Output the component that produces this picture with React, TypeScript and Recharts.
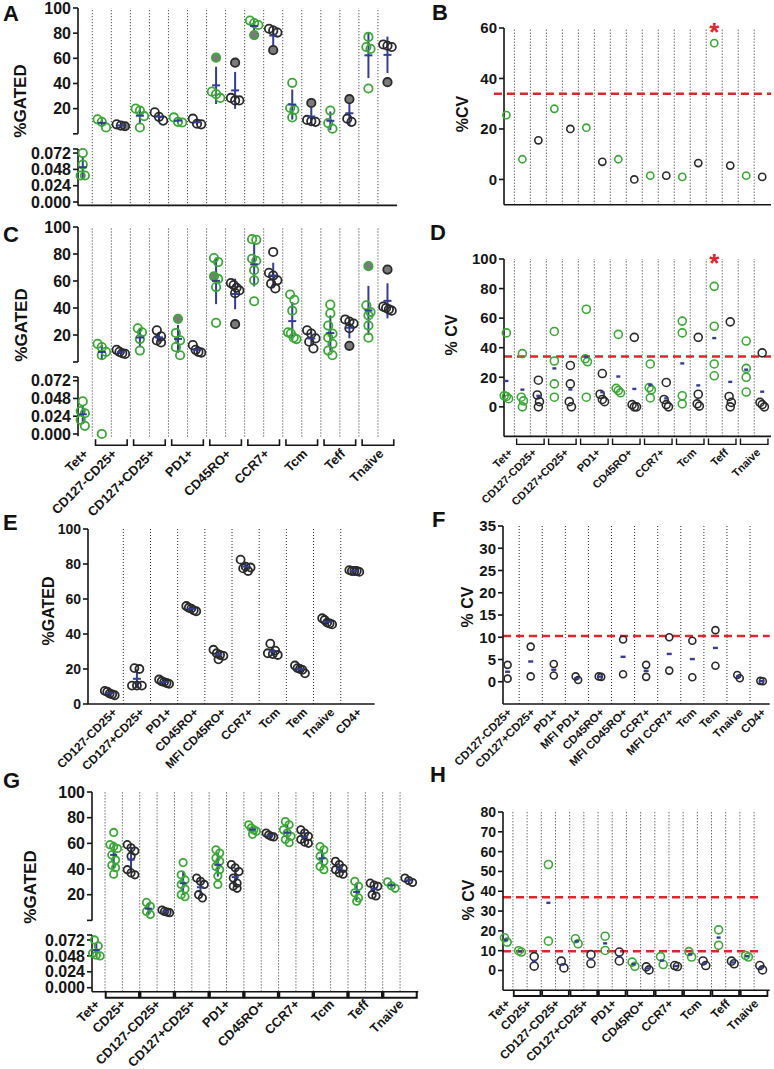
import React from "react";
import { ScatterChart, Scatter, XAxis, YAxis, ReferenceLine, ErrorBar } from "recharts";

// ---------------- values ----------------

// x layout of A-D: Tet+ first, then a green / black pair for every population
const AC_GROUPS = ["Tet+", "CD127-CD25+", "CD127+CD25+", "PD1+", "CD45RO+", "CCR7+", "Tcm", "Teff", "Tnaive"];
// x layout of G-H
const GH_GROUPS = ["Tet+", "CD25+", "CD127-CD25+", "CD127+CD25+", "PD1+", "CD45RO+", "CCR7+", "Tcm", "Teff", "Tnaive"];
const E_LABELS = ["CD127-CD25+", "CD127+CD25+", "PD1+", "CD45RO+", "MFI CD45RO+", "CCR7+", "Tcm", "Tem", "Tnaive", "CD4+"];
const F_LABELS = ["CD127-CD25+", "CD127+CD25+", "PD1+", "MFI PD1+", "CD45RO+", "MFI CD45RO+", "CCR7+", "MFI CCR7+", "Tcm", "Tem", "Tnaive", "CD4+"];

// A: %GATED, upper segment, one array per column (open / grey filled circles)
const A_OPEN = [
  [],
  [11.5, 9.5, 5], [7.5, 6.5],
  [20, 18.5, 14, 5], [17, 13.5, 10.5],
  [13, 9.5, 9], [12, 8, 7.5],
  [33.5, 31.5, 28.5], [28.5, 26.5, 26.5],
  [90, 88, 86.5], [83.5, 82, 80.5],
  [40.5, 20.5, 19, 13], [11, 10, 9.5],
  [18.5, 8.5, 4], [12, 9.5],
  [77, 69, 67.5, 36], [71, 70, 69],
];
const A_FILLED = [[], [], [6], [], [], [], [], [60.5], [56.5], [78.5], [66.5], [], [24.5], [], [27.5], [], [41]];
// lower segment (0 - 0.072)
const A_LOW = [[0.072, 0.055, 0.039, 0.039]];

// B: %CV per column
const B_CV = [25.5, 8, 15.5, 28, 20, 20.5, 7, 8, 0, 1.5, 1.5, 1, 6.5, 54, 5.5, 1.5, 1];
const B_STARS = [14];
const B_LIMIT = 34;

// C
const C_OPEN = [
  [],
  [13.5, 11, 7.5, 5], [9, 7.5, 6.5, 6],
  [25, 22, 17, 8.5], [23.5, 19, 16, 14.5],
  [21.5, 16, 11, 5], [12.5, 9, 7.5, 7],
  [77, 74, 61.5, 55.5, 29], [58.5, 57, 55, 53, 51],
  [91, 90.5, 76.5, 75, 68, 60.5, 45], [81.5, 66, 64, 60.5, 58, 54.5],
  [50, 46, 38, 22, 21, 18, 17], [23.5, 21, 17.5, 15, 10],
  [42.5, 36, 27, 21, 18, 13.5, 8.5, 5], [31.5, 30, 28.5, 25],
  [42, 37, 34.5, 27, 18], [41, 40, 39, 38],
];
const C_FILLED = [[], [], [], [], [], [32], [], [63.5], [28], [], [], [], [], [], [12], [71], [68.5]];
const C_LOW = [[0.044, 0.031, 0.028, 0.019, 0.011], [0]];

// D: %CV, four values per column
const D_CV = [
  [50, 7.5, 7, 5.5], [36, 6.5, 4, 0], [18, 8, 3.5, 0],
  [51, 31, 15.5, 6.5], [28, 15.5, 3.5, 0],
  [66, 32.5, 30.5, 6.5], [22.5, 8.5, 5, 3.5],
  [49, 12.5, 11, 9.5], [47, 1.5, 0, 0],
  [29, 13, 11.5, 6], [16.5, 5, 1.5, 0],
  [58, 50, 7.5, 2], [47, 8.5, 2, 0.5],
  [81.5, 54.5, 29, 21], [57.5, 7, 3, 0],
  [44.5, 26, 20, 10], [36.5, 3, 1.5, 0],
];
const D_STARS = [14];
const D_LIMIT = 34;

// E: %GATED
const E_VALUES = [
  [7.5, 7, 6, 5.5, 5], [20.5, 20, 10.5, 10.5, 10.5], [14, 13, 12.5, 12, 11.5],
  [56, 55, 54.5, 53.5, 53], [31, 29, 28, 27.5, 25.5], [82.5, 78.5, 78, 77.5, 76],
  [34.5, 30.5, 29, 28.5, 28], [22, 20.5, 20, 19.5, 17.5], [49, 48, 46.5, 46, 45.5],
  [76.5, 76, 76, 76, 75.5],
];

// F: %CV
const F_CV = [
  [3.8, 0.7], [7.9, 1.2], [4, 1.4], [1.2, 0.4], [1.2, 1.1], [9.5, 1.7],
  [3.8, 1.1], [10, 2.5], [9.2, 1], [11.6, 3.6], [1.5, 0.8], [0.2, 0.1],
];
const F_LIMIT = 10.3;

// G
const G_OPEN = [
  [],
  [68.5, 59, 57.5, 56, 51, 47, 43, 41, 36], [59, 56.5, 54, 50, 39.5, 37, 35.5],
  [14, 11, 7, 4.5], [8, 7, 6.5, 6],
  [45, 35.5, 31.5, 28, 24.5, 20, 18.5], [33, 30.5, 28, 20, 17.5],
  [55, 52.5, 48.5, 46, 42, 39.5, 34.5, 28], [43.5, 41, 38, 33, 29, 26.5, 25],
  [74.5, 72, 70.5, 69.5, 67], [68, 66.5, 65.5, 65],
  [77, 74.5, 70.5, 68, 65.5, 63, 60.5], [70.5, 68, 65.5, 63, 61, 60],
  [57.5, 55, 50, 46, 42, 39.5], [46, 43.5, 40.5, 39.5, 37, 36],
  [30.5, 26.5, 21.5, 17.5, 15], [29, 27.5, 26.5, 20, 19],
  [30, 27, 25], [33, 31, 29.5],
];
const G_LOW = [[0.072, 0.063, 0.052, 0.049, 0.048]];

// H: %CV, two values per column
const H_CV = [
  [16.5, 14.3], [10, 9.3], [7, 2.2], [53.5, 14.8], [4.7, 1.3], [16, 13.5], [8, 3.5],
  [17.3, 10.1], [9.3, 4.8], [4.2, 2.1], [1.8, 0.3], [7, 3], [2.5, 2], [9.5, 6.8],
  [4.8, 2.5], [20.5, 12.7], [4.7, 3.4], [7.6, 6.8], [2.5, 0.3],
];
const H_LIMITS = [37, 9.7];

// ---------------- styling ----------------

const FONT = "'Liberation Sans', Arial, Helvetica, sans-serif";
const GREEN = "#3aa935";
const DARK = "#2a2a2a";
const GREY_FILL = "#7a7a7a";
const BLUE = "#333d96";
const RED = "#e4232b";
const AXIS = { stroke: "#151515", strokeWidth: 1.6 };

type Pt = { x: number; y: number; dx: number; green: boolean; filled: boolean };
type MeanPt = { x: number; y: number; err: number };
type Shape = (p: any) => React.ReactElement;
type Series = { key: string; data: any[]; shape: Shape };

const isGreen = (col: number) => col === 1 || col % 2 === 0;
const allDark = () => false;

// horizontal spreading of circles that would sit on top of each other (pixel offsets)
function spread(vals: number[], pxPerUnit: number, gap: number, step: number) {
  const order = vals.map((_, i) => i).sort((a, b) => vals[b] - vals[a]);
  const out = vals.map(() => 0);
  let group: number[] = [];
  const flush = () => {
    const n = group.length;
    const s = n > 3 ? (step * 2) / (n - 1) : step;
    group.forEach((i, k) => (out[i] = (k - (n - 1) / 2) * s));
    group = [];
  };
  order.forEach((i) => {
    if (group.length && (vals[group[0]] - vals[i]) * pxPerUnit > gap) flush();
    group.push(i);
  });
  flush();
  return out;
}

function makePoints(open: number[][], filled: number[][], pxPerUnit: number, r: number, step: number, green: (c: number) => boolean) {
  const pts: Pt[] = [];
  open.forEach((vals, i) => {
    const all = [...vals, ...(filled[i] ?? [])];
    const dx = spread(all, pxPerUnit, 2 * r, step);
    all.forEach((v, k) => pts.push({ x: i + 1, y: v, dx: dx[k], green: green(i + 1), filled: k >= vals.length }));
  });
  return pts;
}

function meanSd(vals: number[]) {
  const n = vals.length;
  const m = vals.reduce((a, b) => a + b, 0) / n;
  const sd = n > 1 ? Math.sqrt(vals.reduce((a, b) => a + (b - m) ** 2, 0) / (n - 1)) : 0;
  return { m, sd };
}

const ring = (stroke: string, fill: string, r: number, sw: number): Shape => (p: any) => (
  <circle cx={p.cx + (p.payload?.dx ?? 0)} cy={p.cy} r={r} fill={fill} stroke={stroke} strokeWidth={sw} />
);

function toSeries(pts: Pt[], r: number, sw: number): Series[] {
  const kinds = [
    { key: "gf", green: true, filled: true },
    { key: "df", green: false, filled: true },
    { key: "go", green: true, filled: false },
    { key: "do", green: false, filled: false },
  ];
  return kinds
    .map((k) => ({
      key: k.key,
      data: pts.filter((p) => p.green === k.green && p.filled === k.filled),
      shape: ring(k.green ? GREEN : DARK, k.filled ? GREY_FILL : "none", r, sw),
    }))
    .filter((s) => s.data.length > 0);
}

const meanBar = (w: number): Shape => (p: any) => (
  <line x1={p.cx - w} x2={p.cx + w} y1={p.cy} y2={p.cy} stroke={BLUE} strokeWidth={2} />
);
const meanDash = (w: number): Shape => (p: any) => (
  <rect x={p.cx - w / 2} y={p.cy - 1.2} width={w} height={2.4} fill={BLUE} />
);
const starShape: Shape = (p: any) => (
  <text x={p.cx} y={p.cy + 13} textAnchor="middle" fontSize={26} fontWeight={700} fill={RED} fontFamily={FONT}>*</text>
);

const groupTicks = (groups: string[]) => groups.map((_, i) => (i === 0 ? 1 : 2 * i + 0.5));
const seqTicks = (labels: string[]) => labels.map((_, i) => i + 1);

type TickOpt = { fs: number; ox: number; oy: number; half?: number; bTop?: number; bH?: number; bW?: number };

function labelTick(labels: string[], ticks: number[], o: TickOpt): Shape {
  return (p: any) => {
    const v = p.payload.value;
    const label = labels[ticks.indexOf(v)] ?? "";
    const pair = o.half != null && !Number.isInteger(v);
    const t = p.y + (o.bTop ?? 0);
    return (
      <g>
        {pair ? (
          <path
            d={`M${p.x - o.half!},${t}V${t + o.bH!}H${p.x + o.half!}V${t}`}
            fill="none"
            stroke="#151515"
            strokeWidth={o.bW}
          />
        ) : null}
        <text
          transform={`translate(${p.x + o.ox},${p.y + o.oy}) rotate(-45)`}
          textAnchor="end"
          dy="0.36em"
          fontSize={o.fs}
          fontWeight={700}
          fontFamily={FONT}
          fill="#151515"
        >
          {label}
        </text>
      </g>
    );
  };
}

type Spec = {
  x0: number; x1: number; y0: number; y1: number;
  xd: [number, number]; yd: [number, number];
  yTicks: number[]; yFmt?: (v: number) => string; yFont: number; axisW: number;
  xAxis: "hide" | "line" | "ticks";
  xTicks?: number[]; xTick?: Shape; xLine?: boolean; xH?: number;
  series: Series[];
  means?: { data: MeanPt[]; sd: boolean; shape: Shape };
  limits?: number[];
  limitX?: [number, number];
  stars?: { x: number; y: number }[];
};

function DotChart({ s }: { s: Spec }) {
  const pad = 16;
  const showX = s.xAxis !== "hide";
  const xH = showX ? s.xH ?? 2 : 0;
  const width = s.x1 - s.x0 + s.axisW + pad;
  const height = s.y1 - s.y0 + pad + (showX ? xH : pad);
  return (
    <div style={{ position: "absolute", left: s.x0 - s.axisW, top: s.y0 - pad }}>
      <ScatterChart width={width} height={height} margin={{ top: pad, right: pad, bottom: showX ? 0 : pad, left: 0 }}>
        <XAxis
          type="number"
          dataKey="x"
          domain={s.xd}
          hide={!showX}
          height={xH}
          ticks={s.xTicks}
          interval={0}
          tick={s.xAxis === "ticks" ? s.xTick : false}
          tickLine={false}
          tickSize={0}
          tickMargin={0}
          axisLine={s.xLine === false ? false : AXIS}
        />
        <YAxis
          type="number"
          dataKey="y"
          domain={s.yd}
          ticks={s.yTicks}
          interval={0}
          width={s.axisW}
          tickFormatter={s.yFmt}
          tickSize={5}
          tickMargin={2}
          axisLine={AXIS}
          tickLine={AXIS}
          tick={{ fontSize: s.yFont, fontWeight: 700, fill: "#151515", fontFamily: FONT }}
        />
        {(s.limits ?? []).map((v) =>
          s.limitX ? (
            <ReferenceLine
              key={`lim${v}`}
              segment={[{ x: s.limitX[0], y: v }, { x: s.limitX[1], y: v }]}
              ifOverflow="visible"
              stroke={RED}
              strokeWidth={2.5}
              strokeDasharray="8 5"
            />
          ) : (
            <ReferenceLine key={`lim${v}`} y={v} stroke={RED} strokeWidth={2.5} strokeDasharray="8 5" />
          )
        )}
        {s.series.map((se) => (
          <Scatter key={se.key} data={se.data} shape={se.shape} isAnimationActive={false} />
        ))}
        {s.means ? (
          <Scatter data={s.means.data} shape={s.means.shape} isAnimationActive={false}>
            {s.means.sd ? (
              <ErrorBar dataKey="err" direction="y" width={0} stroke={BLUE} strokeWidth={2} isAnimationActive={false} />
            ) : null}
          </Scatter>
        ) : null}
        {s.stars ? <Scatter data={s.stars} shape={starShape} isAnimationActive={false} /> : null}
      </ScatterChart>
    </div>
  );
}

// dotted separators between the columns, drawn across the whole plot height
function GridLines({ x0, x1, y0, y1, xd, n }: { x0: number; x1: number; y0: number; y1: number; xd: [number, number]; n: number }) {
  const xs = Array.from({ length: n - 1 }, (_, i) => i + 1.5);
  return (
    <div style={{ position: "absolute", left: x0, top: y0 }}>
      <ScatterChart width={x1 - x0} height={y1 - y0} margin={{ top: 0, right: 0, bottom: 0, left: 0 }}>
        <XAxis type="number" dataKey="x" domain={xd} allowDataOverflow hide />
        <YAxis type="number" dataKey="y" domain={[0, 1]} allowDataOverflow hide />
        <Scatter data={[]} isAnimationActive={false} />
        {xs.map((x) => (
          <ReferenceLine key={x} x={x} stroke="#2a2a2a" strokeWidth={1} strokeDasharray="1 2" />
        ))}
      </ScatterChart>
    </div>
  );
}

type SplitProps = {
  x0: number; x1: number; xd: [number, number];
  up: [number, number]; low: [number, number]; lowD: [number, number];
  open: number[][]; filled: number[][]; lowVals: number[][];
  r: number; step: number; yFont: number; bar: number;
  xAxis: "line" | "ticks"; xLine: boolean; xTicks?: number[]; xTick?: Shape; xH?: number;
};

function SplitGated(p: SplitProps) {
  const upPx = (p.up[1] - p.up[0]) / 100;
  const lowPx = (p.low[1] - p.low[0]) / (p.lowD[1] - p.lowD[0]);
  const lowCols = p.open.map((_, i) => p.lowVals[i] ?? []);
  const upPts = makePoints(p.open, p.filled, upPx, p.r, p.step, isGreen);
  const lowPts = makePoints(lowCols, [], lowPx, p.r, p.step, isGreen);
  const upMeans: MeanPt[] = [];
  const lowMeans: MeanPt[] = [];
  p.open.forEach((vals, i) => {
    const all = [...vals, ...(p.filled[i] ?? []), ...lowCols[i]];
    if (!all.length) return;
    const { m, sd } = meanSd(all);
    (vals.length ? upMeans : lowMeans).push({ x: i + 1, y: m, err: sd });
  });
  const common = { x0: p.x0, x1: p.x1, xd: p.xd, yFont: p.yFont, axisW: 58 };
  return (
    <>
      <GridLines x0={p.x0} x1={p.x1} y0={p.up[0]} y1={p.low[1]} xd={p.xd} n={p.open.length} />
      <DotChart
        s={{
          ...common,
          y0: p.up[0],
          y1: p.up[1],
          yd: [0, 100],
          yTicks: [0, 20, 40, 60, 80, 100],
          yFmt: (v) => (v === 0 ? "" : String(v)),
          xAxis: "hide",
          series: toSeries(upPts, p.r, 1.8),
          means: { data: upMeans, sd: true, shape: meanBar(p.bar) },
        }}
      />
      <DotChart
        s={{
          ...common,
          y0: p.low[0],
          y1: p.low[1],
          yd: p.lowD,
          yTicks: [0, 0.024, 0.048, 0.072, p.lowD[1]],
          yFmt: (v) => (v > 0.073 ? "" : v.toFixed(3)),
          xAxis: p.xAxis,
          xLine: p.xLine,
          xTicks: p.xTicks,
          xTick: p.xTick,
          xH: p.xH,
          series: toSeries(lowPts, p.r, 1.8),
          means: { data: lowMeans, sd: true, shape: meanBar(p.bar) },
        }}
      />
    </>
  );
}

type SingleProps = {
  x0: number; x1: number; y0: number; y1: number; xd: [number, number]; yd: [number, number];
  yTicks: number[]; yFont: number; axisW: number;
  cols: number[][]; green: (c: number) => boolean; r: number; sw: number; step: number;
  mean: "none" | "dash" | "sd"; meanW: number;
  limits?: number[]; limitX?: [number, number]; stars?: number[];
  xAxis: "line" | "ticks"; xTicks?: number[]; xTick?: Shape; xH?: number;
};

function SinglePanel(p: SingleProps) {
  const px = (p.y1 - p.y0) / (p.yd[1] - p.yd[0]);
  const pts = makePoints(p.cols, [], px, p.r, p.step, p.green);
  const means: MeanPt[] = p.cols.map((vals, i) => {
    const { m, sd } = meanSd(vals);
    return { x: i + 1, y: m, err: sd };
  });
  return (
    <>
      <GridLines x0={p.x0} x1={p.x1} y0={p.y0} y1={p.y1} xd={p.xd} n={p.cols.length} />
      <DotChart
        s={{
          x0: p.x0, x1: p.x1, y0: p.y0, y1: p.y1, xd: p.xd, yd: p.yd,
          yTicks: p.yTicks, yFont: p.yFont, axisW: p.axisW,
          xAxis: p.xAxis, xLine: true, xTicks: p.xTicks, xTick: p.xTick, xH: p.xH,
          series: toSeries(pts, p.r, p.sw),
          means: p.mean === "none" ? undefined : { data: means, sd: p.mean === "sd", shape: p.mean === "sd" ? meanBar(p.meanW) : meanDash(p.meanW) },
          limits: p.limits,
          limitX: p.limitX,
          stars: p.stars?.map((c) => ({ x: c, y: p.yd[1] })),
        }}
      />
    </>
  );
}

const LETTERS = [
  { t: "A", x: 3, y: 21 }, { t: "B", x: 432, y: 20 },
  { t: "C", x: 3, y: 242 }, { t: "D", x: 430, y: 240 },
  { t: "E", x: 3, y: 530 }, { t: "F", x: 432, y: 527 },
  { t: "G", x: 3, y: 788 }, { t: "H", x: 430, y: 782 },
];
const TITLES = [
  { t: "%GATED", x: 20, y: 101, fs: 17 }, { t: "%CV", x: 462, y: 114, fs: 16 },
  { t: "%GATED", x: 21, y: 325, fs: 17 }, { t: "% CV", x: 451, y: 335, fs: 16 },
  { t: "%GATED", x: 48, y: 611, fs: 16 }, { t: "% CV", x: 467, y: 607, fs: 16 },
  { t: "%GATED", x: 30, y: 887, fs: 17 }, { t: "% CV", x: 468, y: 900, fs: 16 },
];

export default function App() {
  const acTicks = groupTicks(AC_GROUPS);
  const ghTicks = groupTicks(GH_GROUPS);
  const eTicks = seqTicks(E_LABELS);
  const fTicks = seqTicks(F_LABELS);
  const acUnit = (397 - 78) / (17.5 - 0.75);
  const bdUnit = (771 - 504) / (17.55 - 0.85);
  const gUnit = (418 - 91.7) / (19.55 - 0.75);
  const hUnit = (770 - 503.3) / (19.6 - 0.8);

  return (
    <div style={{ position: "absolute", left: 0, top: 0, width: 774, height: 1069, background: "#fff", overflow: "hidden", fontFamily: FONT }}>
      <style>{`.recharts-surface{overflow:visible}`}</style>

      {/* A */}
      <SplitGated
        x0={78} x1={397} xd={[0.75, 17.5]} up={[7.5, 133.3]} low={[149.3, 205.7]} lowD={[-0.005, 0.078]}
        open={A_OPEN} filled={A_FILLED} lowVals={A_LOW} r={4.2} step={4.2} yFont={16} bar={4}
        xAxis="line" xLine
      />

      {/* B */}
      <SinglePanel
        x0={504} x1={771} y0={28.3} y1={205} xd={[0.85, 17.55]} yd={[-10, 60]} yTicks={[0, 20, 40, 60]}
        yFont={15} axisW={40} cols={B_CV.map((v) => [v])} green={isGreen} r={3.6} sw={1.6} step={2.5}
        mean="none" meanW={4} limits={[B_LIMIT]} limitX={[0.22, 17.55]} stars={B_STARS} xAxis="line"
      />

      {/* C */}
      <SplitGated
        x0={78} x1={397} xd={[0.75, 17.5]} up={[226.7, 361.7]} low={[377, 436.2]} lowD={[-0.003, 0.077]}
        open={C_OPEN} filled={C_FILLED} lowVals={C_LOW} r={4.2} step={4.2} yFont={16} bar={4}
        xAxis="ticks" xLine={false} xTicks={acTicks} xH={95}
        xTick={labelTick(AC_GROUPS, acTicks, { fs: 13, ox: 3, oy: 15, half: 0.83 * acUnit, bTop: 3, bH: 6, bW: 1.6 })}
      />

      {/* D */}
      <SinglePanel
        x0={504} x1={771} y0={259.3} y1={436.7} xd={[0.85, 17.55]} yd={[-20, 100]} yTicks={[0, 20, 40, 60, 80, 100]}
        yFont={15} axisW={40} cols={D_CV} green={isGreen} r={4} sw={1.6} step={2.2}
        mean="dash" meanW={4} limits={[D_LIMIT]} stars={D_STARS}
        xAxis="ticks" xTicks={acTicks} xH={80}
        xTick={labelTick(AC_GROUPS, acTicks, { fs: 11, ox: 4, oy: 14, half: 0.86 * bdUnit, bTop: 2, bH: 6, bW: 1.4 })}
      />

      {/* E */}
      <SinglePanel
        x0={88.3} x1={375} y0={529.3} y1={704.3} xd={[0.2, 10.75]} yd={[0, 100]} yTicks={[0, 20, 40, 60, 80, 100]}
        yFont={14} axisW={40} cols={E_VALUES} green={allDark} r={4} sw={1.8} step={5}
        mean="sd" meanW={4} xAxis="ticks" xTicks={eTicks} xH={80}
        xTick={labelTick(E_LABELS, eTicks, { fs: 12, ox: 5, oy: 6 })}
      />

      {/* F */}
      <SinglePanel
        x0={503.3} x1={770} y0={526} y1={704} xd={[0.8, 12.35]} yd={[-5, 35]} yTicks={[0, 5, 10, 15, 20, 25, 30, 35]}
        yFont={15} axisW={40} cols={F_CV} green={allDark} r={3.5} sw={1.6} step={2.5}
        mean="dash" meanW={5} limits={[F_LIMIT]} xAxis="ticks" xTicks={fTicks} xH={80}
        xTick={labelTick(F_LABELS, fTicks, { fs: 11.5, ox: 2, oy: 6 })}
      />

      {/* G */}
      <SplitGated
        x0={91.7} x1={418} xd={[0.75, 19.55]} up={[792.3, 920.7]} low={[935, 991.7]} lowD={[-0.006, 0.0795]}
        open={G_OPEN} filled={[]} lowVals={G_LOW} r={3.7} step={3.8} yFont={16} bar={3.5}
        xAxis="ticks" xLine xTicks={ghTicks} xH={70}
        xTick={labelTick(GH_GROUPS, ghTicks, { fs: 13, ox: 1, oy: 10, half: 0.96 * gUnit, bTop: 0, bH: 6, bW: 2 })}
      />

      {/* H */}
      <SinglePanel
        x0={503.3} x1={770} y0={811.7} y1={990} xd={[0.8, 19.6]} yd={[-10, 80]} yTicks={[0, 10, 20, 30, 40, 50, 60, 70, 80]}
        yFont={14} axisW={40} cols={H_CV} green={isGreen} r={4} sw={1.6} step={2.7}
        mean="dash" meanW={4} limits={H_LIMITS} limitX={[0.8, 19.1]} xAxis="ticks" xTicks={ghTicks} xH={70}
        xTick={labelTick(GH_GROUPS, ghTicks, { fs: 12, ox: 2, oy: 11, half: 0.94 * hUnit, bTop: 0, bH: 5.7, bW: 1.8 })}
      />

      <svg width={774} height={1069} style={{ position: "absolute", left: 0, top: 0, pointerEvents: "none" }}>
        {LETTERS.map((l) => (
          <text key={l.t} x={l.x} y={l.y} fontSize={22} fontWeight={700} fontFamily={FONT} fill="#111">
            {l.t}
          </text>
        ))}
        {TITLES.map((t, i) => (
          <text
            key={i}
            transform={`translate(${t.x},${t.y}) rotate(-90)`}
            textAnchor="middle"
            dy="0.36em"
            fontSize={t.fs}
            fontWeight={700}
            fontFamily={FONT}
            fill="#111"
          >
            {t.t}
          </text>
        ))}
      </svg>
    </div>
  );
}
